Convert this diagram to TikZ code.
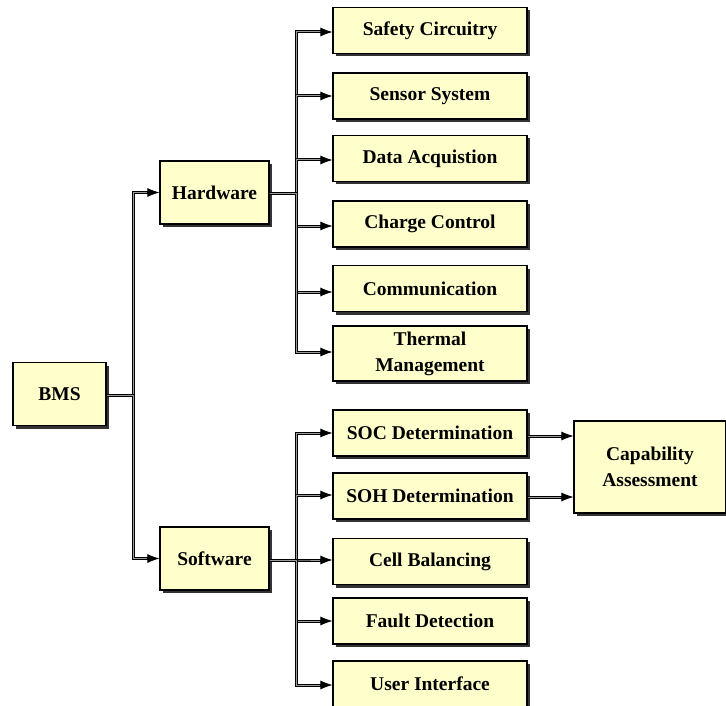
\documentclass[tikz,border=0pt]{standalone}
\usepackage{fontspec}
\setmainfont{Liberation Serif}
\usetikzlibrary{arrows.meta,shadows}
\definecolor{boxfill}{HTML}{FFFFCC}
\definecolor{shadowc}{HTML}{333333}
\definecolor{linein}{HTML}{9A9A9A}
\begin{document}
\begin{tikzpicture}[x=1pt,y=-1pt,
  box/.style={draw=black,line width=1.1pt,fill=boxfill,inner sep=2pt,align=center,
    font=\fontsize{19.5}{24}\selectfont\bfseries,text=black,
    drop shadow={shadow xshift=3pt,shadow yshift=-3pt,fill=shadowc,opacity=1}},
  leaf/.style={box,minimum width=194pt,minimum height=46pt},
  mid/.style={box,minimum width=109pt,minimum height=63pt},
  conn/.style={draw=black,line width=1pt,double=linein,double distance=1pt},
  tip/.style={draw=black,-{Latex[length=12pt,width=9pt]},line width=0.8pt}]
\useasboundingbox (0,0) rectangle (726,706);
% nodes
\node[box,minimum width=93pt,minimum height=63pt] (bms) at (59.5,394) {BMS};
\node[mid] (hw) at (214.5,192.5) {Hardware};
\node[mid] (sw) at (214.5,558.5) {Software};
\node[leaf] (s1) at (430,30.5) {Safety Circuitry};
\node[leaf] (s2) at (430,96) {Sensor System};
\node[leaf] (s3) at (430,158.5) {Data Acquistion};
\node[leaf] (s4) at (430,224) {Charge Control};
\node[leaf] (s5) at (430,288.5) {Communication};
\node[leaf,minimum height=55pt] (s6) at (430,353.5) {Thermal\\[2pt]Management};
\node[leaf] (t1) at (430,433) {SOC Determination};
\node[leaf] (t2) at (430,496) {SOH Determination};
\node[leaf] (t3) at (430,561.5) {Cell Balancing};
\node[leaf] (t4) at (430,621) {Fault Detection};
\node[leaf] (t5) at (430,684) {User Interface};
\node[box,minimum width=152pt,minimum height=92pt] (cap) at (650,467) {Capability\\[2pt]Assessment};
% bus coordinates
\coordinate (b0) at (133,395);
\coordinate (b1) at (296,194);
\coordinate (b2) at (296,560);
% connectors
\foreach \n in {hw,sw}{
  \draw[conn] (bms.east |- b0) -- (b0) |- ([xshift=-6pt]\n.west);
  \draw[tip] ([xshift=-12pt]\n.west) -- (\n.west);
}
\foreach \n/\yy in {s1/32,s2/96,s3/160,s4/226,s5/292,s6/352}{
  \draw[conn] (hw.east |- b1) -- (b1) |- ([xshift=-6pt]\n.west |- 0,\yy);
  \draw[tip] ([xshift=-12pt]\n.west |- 0,\yy) -- (\n.west |- 0,\yy);
}
\foreach \n/\yy in {t1/433,t2/495,t3/560,t4/621,t5/685}{
  \draw[conn] (sw.east |- b2) -- (b2) |- ([xshift=-6pt]\n.west |- 0,\yy);
  \draw[tip] ([xshift=-12pt]\n.west |- 0,\yy) -- (\n.west |- 0,\yy);
}
\foreach \n/\yy in {t1/436,t2/497}{
  \draw[conn] (\n.east |- 0,\yy) -- ([xshift=-6pt]cap.west |- 0,\yy);
  \draw[tip] ([xshift=-12pt]cap.west |- 0,\yy) -- (cap.west |- 0,\yy);
}
\end{tikzpicture}
\end{document}
